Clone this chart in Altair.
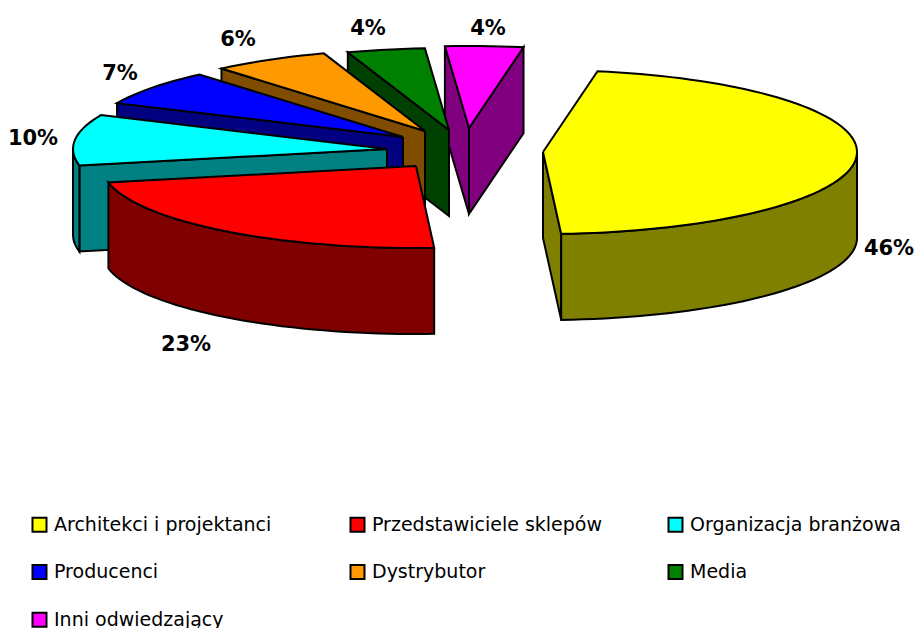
import math
import altair as alt
import pandas as pd

categories = ["Architekci i projektanci", "Przedstawiciele sklepów", "Organizacja branżowa",
              "Producenci", "Dystrybutor", "Media", "Inni odwiedzający"]
shares = [46.3, 22.7, 10, 7, 6, 4, 4]
labels = ["46%", "23%", "10%", "7%", "6%", "4%", "4%"]
top_colors = ["#ffff00", "#ff0000", "#00ffff", "#0000ff", "#ff9900", "#008000", "#ff00ff"]
side_colors = ["#808000", "#800000", "#008080", "#000080", "#804d00", "#004000", "#800080"]
apex_x = [543, 416, 387, 403, 425, 449, 469]
apex_y = [152, 166, 149, 137, 131, 130, 128]
label_x = [889, 186, 33, 120, 238, 368, 488]
label_y = [249, 345, 139, 74, 40, 29, 29]
paint_order = [6, 5, 4, 3, 2, 1, 0]
first_angle = 10.0
rx, ry, depth = 314, 82, 86


def rim(i, deg, drop=0):
    t = math.radians(deg)
    return apex_x[i] + rx * math.sin(t), apex_y[i] - ry * math.cos(t) + drop


def arc(i, a, b, drop=0):
    n = max(2, int(abs(b - a) / 2) + 1)
    return [rim(i, a + (b - a) * k / (n - 1), drop) for k in range(n)]


polys = []


def add(pts, color):
    pid = len(polys)
    closed = pts + [pts[0]]
    polys.append(pd.DataFrame({"x": [p[0] for p in closed], "y": [p[1] for p in closed],
                               "n": range(len(closed)), "pid": pid, "fill": color}))


starts = []
acc = first_angle
for s in shares:
    starts.append(acc)
    acc += s * 3.6

for i in paint_order:
    a, b = starts[i], starts[i] + shares[i] * 3.6
    ax, ay = apex_x[i], apex_y[i]
    for deg in (a, b):
        s = math.sin(math.radians(deg))
        if (deg == a and s < 0) or (deg == b and s > 0):
            add([(ax, ay), rim(i, deg), rim(i, deg, depth), (ax, ay + depth)], side_colors[i])
    lo, hi = max(a, 90), min(b, 270)
    if lo < hi:
        add(arc(i, lo, hi) + arc(i, hi, lo, depth), side_colors[i])
    add([(ax, ay)] + arc(i, a, b), top_colors[i])

X = alt.Scale(domain=[8, 915], range=[0, 907])
Y = alt.Scale(domain=[8, 628], range=[0, 620])

layers = []
for p in polys:
    layers.append(alt.Chart(p).mark_line(stroke="black", strokeWidth=2, fill=p["fill"][0],
                                         strokeJoin="miter", clip=False).encode(
        x=alt.X("x:Q", scale=X, axis=None),
        y=alt.Y("y:Q", scale=Y, axis=None),
        order="n:Q"))

text_df = pd.DataFrame({"x": label_x, "y": label_y, "t": labels})
text = alt.Chart(text_df).mark_text(font="DejaVu Sans", fontWeight="bold", fontSize=21, color="black").encode(
    x=alt.X("x:Q", scale=X, axis=None), y=alt.Y("y:Q", scale=Y, axis=None), text="t:N")

legend_df = pd.DataFrame({"c": categories, "x": [100] * 7, "y": [100] * 7})
legend_layer = alt.Chart(legend_df).mark_point(shape="square", filled=True, opacity=0).encode(
    x=alt.X("x:Q", scale=X, axis=None), y=alt.Y("y:Q", scale=Y, axis=None),
    fill=alt.Fill("c:N", scale=alt.Scale(domain=categories, range=top_colors),
                  legend=alt.Legend(orient="none", legendX=22, legendY=507, columns=3, title=None,
                                    direction="horizontal",
                                    symbolType="square", symbolSize=196, symbolStrokeColor="black",
                                    symbolStrokeWidth=2, symbolOpacity=1, labelFont="DejaVu Sans",
                                    labelFontSize=19, labelLimit=400, labelColor="black",
                                    gridAlign="all", columnPadding=62, rowPadding=24.6, padding=0,
                                    labelOffset=5)))

chart = alt.layer(*layers, text, legend_layer).properties(
    width=907, height=620, padding=0, autosize=alt.AutoSizeParams(type="none")
).configure_view(stroke=None)

chart.save("out.html", embed_options={"renderer": "svg", "actions": False})
